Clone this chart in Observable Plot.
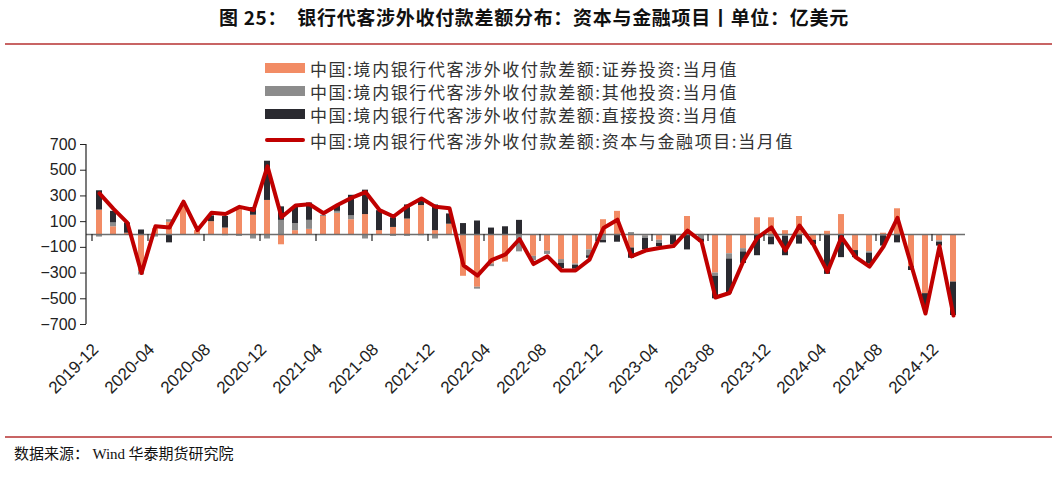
<!DOCTYPE html>
<html><head><meta charset="utf-8">
<script src="https://cdn.jsdelivr.net/npm/d3@7"></script>
<script src="https://cdn.jsdelivr.net/npm/@observablehq/plot@0.6"></script>
<style>
body{margin:0;background:#fff;width:1057px;height:479px;position:relative;overflow:hidden;font-family:"Noto Sans CJK SC",sans-serif;}
#title{position:absolute;top:3px;left:219px;white-space:nowrap;font-size:19px;font-weight:bold;color:#111;letter-spacing:0.7px;}
#title .n{margin-right:10px;}
.hr{position:absolute;left:5px;width:1047px;height:2px;background:#c86464;}
#chart{position:absolute;left:0;top:0;}
.item{position:absolute;left:265px;display:flex;align-items:center;height:22px;font-size:17px;color:#333;letter-spacing:1.6px;white-space:nowrap;}
.sw{width:40px;height:10px;margin-right:5px;}
.ln{width:40px;height:4px;margin-right:5px;background:#c00000;border-radius:2px;}
#src{position:absolute;left:14px;top:442px;font-size:15px;color:#111;white-space:nowrap;}
#src .w{font-family:"Liberation Serif",serif;}
</style></head>
<body>
<div id="title"><span class="n">图 25：</span>银行代客涉外收付款差额分布：资本与金融项目丨单位：亿美元</div>
<div class="hr" style="top:43px"></div>
<div id="chart"></div>
<div id="legend"></div>
<div class="hr" style="top:436px"></div>
<div id="src">数据来源： <span class="w">Wind</span> 华泰期货研究院</div>
<script>
const months = ["2019-12","2020-01","2020-02","2020-03","2020-04","2020-05","2020-06","2020-07","2020-08","2020-09","2020-10","2020-11","2020-12","2021-01","2021-02","2021-03","2021-04","2021-05","2021-06","2021-07","2021-08","2021-09","2021-10","2021-11","2021-12","2022-01","2022-02","2022-03","2022-04","2022-05","2022-06","2022-07","2022-08","2022-09","2022-10","2022-11","2022-12","2023-01","2023-02","2023-03","2023-04","2023-05","2023-06","2023-07","2023-08","2023-09","2023-10","2023-11","2023-12","2024-01","2024-02","2024-03","2024-04","2024-05","2024-06","2024-07","2024-08","2024-09","2024-10","2024-11","2024-12","2025-01"];
// 证券投资
const securities = [190,60,10,-290,45,95,240,30,100,50,200,150,265,-80,30,40,140,165,115,155,30,55,120,225,30,80,-325,-410,-230,-215,0,-170,-130,-195,-230,-120,115,180,-105,-10,-45,-5,140,0,-300,-150,-110,130,130,30,140,-45,25,155,-125,-135,10,200,-250,-460,-50,-370];
// 其他投资
const other = [-20,30,0,-25,-20,20,0,0,0,-10,-15,-35,-35,110,55,70,10,15,30,-35,0,-15,-15,-10,-35,0,0,-15,-20,0,-135,-35,-25,-30,-10,-45,-45,0,15,-20,-25,0,0,-35,-25,-40,-25,0,-20,-15,0,0,0,0,0,-10,-10,0,0,0,-10,0];
// 直接投资
const direct = [150,90,80,35,0,-65,0,0,45,90,0,60,305,105,125,135,0,45,160,190,155,75,110,55,200,80,85,105,50,60,110,0,0,-40,-30,-20,-20,-60,-80,-90,-25,-75,-120,-25,-175,-270,-90,-165,-60,-150,-75,-35,-310,-180,-55,-85,-80,-65,-30,-105,-30,-260];
// 资本与金融项目
const total = [320,200,90,-300,65,55,255,35,170,160,215,190,530,135,225,235,165,230,285,330,190,140,220,280,215,205,-240,-320,-200,-155,-35,-230,-170,-280,-280,-195,50,115,-170,-125,-105,-90,30,-55,-490,-455,-205,-25,55,-125,70,-80,-290,-20,-175,-250,-95,130,-245,-615,-90,-630];
const tickMonths = ["2019-12","2020-04","2020-08","2020-12","2021-04","2021-08","2021-12","2022-04","2022-08","2022-12","2023-04","2023-08","2023-12","2024-04","2024-08","2024-12"];
const yTicks = [-700,-500,-300,-100,100,300,500,700];

const seriesNames = ["中国:境内银行代客涉外收付款差额:证券投资:当月值","中国:境内银行代客涉外收付款差额:其他投资:当月值","中国:境内银行代客涉外收付款差额:直接投资:当月值"];
const lineName = "中国:境内银行代客涉外收付款差额:资本与金融项目:当月值";
const colors = ["#f28c65","#8c8c8c","#2a2a30"];
const lineColor = "#c00000";

const rows = [];
months.forEach((m,i)=>{
  rows.push({month:m, series:seriesNames[0], value:securities[i]});
  rows.push({month:m, series:seriesNames[1], value:other[i]});
  rows.push({month:m, series:seriesNames[2], value:direct[i]});
});
const lineRows = months.map((m,i)=>({month:m, value:total[i]}));

const chart = Plot.plot({
  width:1057, height:420,
  marginLeft:86, marginRight:92, marginTop:144, marginBottom:96,
  style:{background:"transparent", fontFamily:"'Liberation Sans', Arial, sans-serif"},
  x:{type:"band", domain:months, paddingInner:0.6, paddingOuter:0.3, axis:null},
  y:{domain:[-700,700], axis:null},
  color:{domain:seriesNames, range:colors},
  marks:[
    Plot.barY(rows, {x:"month", y:"value", fill:"series", order:seriesNames}),
    Plot.ruleY([0], {stroke:"#6e6e6e", strokeWidth:1.5}),
    Plot.line(lineRows, {x:"month", y:"value", stroke:lineColor, strokeWidth:4, strokeLinejoin:"round", strokeLinecap:"round"}),
    Plot.axisY({ticks:yTicks, label:null, tickFormat:d=> d<0 ? "\u2212"+(-d) : String(d), tickSize:6, tickPadding:4, fontSize:16, color:"#222", stroke:"#222"}),
    Plot.text(tickMonths, {x:d=>d, text:d=>d, frameAnchor:"bottom", rotate:-45, textAnchor:"end", dy:26, dx:0, fontSize:17, fill:"#222"})
  ]
});
document.getElementById("chart").appendChild(chart);

// axis line and boundary ticks
const xs = chart.scale("x"), ys = chart.scale("y");
const svg = d3.select(chart);
const step = xs.step, bw = xs.bandwidth;
const y0 = ys.apply(0);
svg.append("line").attr("x1",86).attr("x2",86).attr("y1",ys.apply(700)).attr("y2",ys.apply(-700)).attr("stroke","#222").attr("stroke-width",1.2);
tickMonths.forEach(m=>{
  const bx = xs.apply(m) + bw/2 - step/2;
  svg.append("line").attr("x1",bx).attr("x2",bx).attr("y1",y0).attr("y2",y0+7).attr("stroke","#222").attr("stroke-width",1.2);
});

// legend
const legend = document.getElementById("legend");
const tops = [57,80,103,129];
seriesNames.forEach((n,i)=>{
  const d = document.createElement("div");
  d.className="item"; d.style.top=tops[i]+"px";
  d.innerHTML = `<span class="sw" style="background:${colors[i]}"></span><span>${n}</span>`;
  legend.appendChild(d);
});
const dl = document.createElement("div");
dl.className="item"; dl.style.top=tops[3]+"px";
dl.innerHTML = `<span class="ln"></span><span>${lineName}</span>`;
legend.appendChild(dl);
</script>
</body></html>
